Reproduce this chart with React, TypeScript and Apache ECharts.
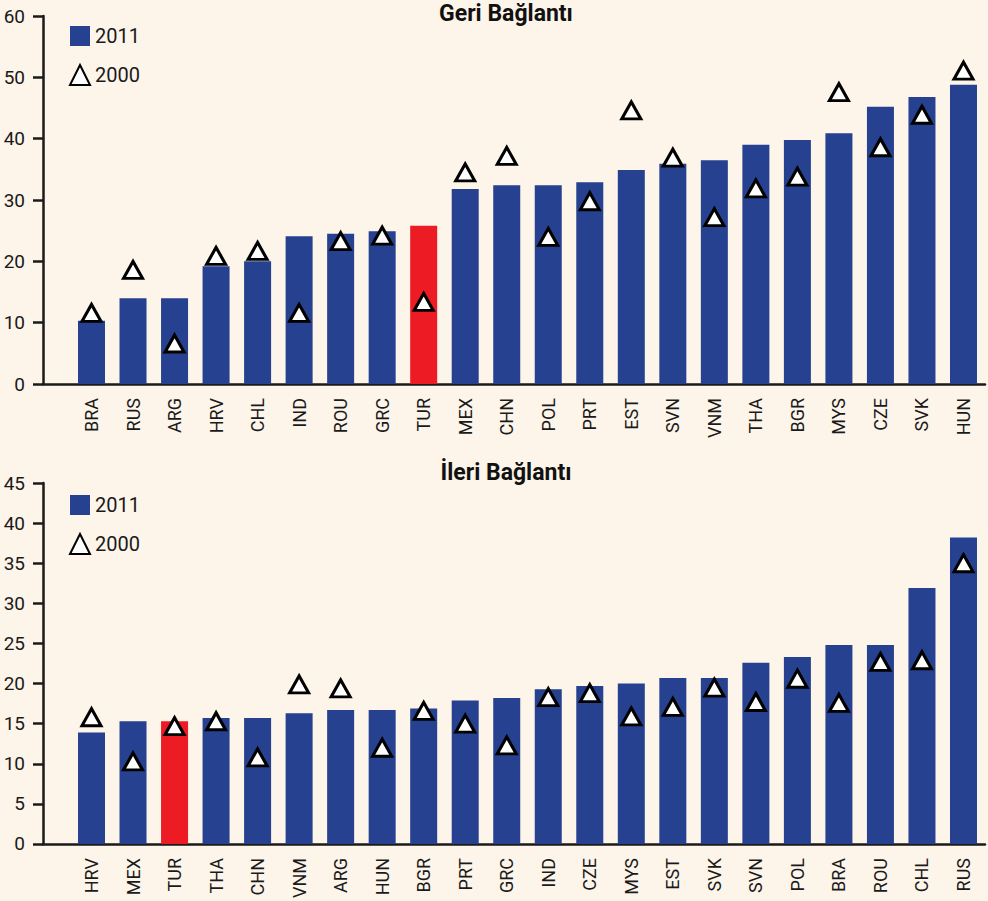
import React, { useEffect, useRef } from "react";
import * as echarts from "echarts";

const geriCats = ["BRA","RUS","ARG","HRV","CHL","IND","ROU","GRC","TUR","MEX","CHN","POL","PRT","EST","SVN","VNM","THA","BGR","MYS","CZE","SVK","HUN"];
const geri2011 = [10.3,14.0,14.0,19.2,20.0,24.1,24.5,24.9,25.8,31.8,32.4,32.4,32.9,34.9,35.9,36.5,39.0,39.8,40.9,45.2,46.8,48.8];
const geri2000 = [11.6,18.6,6.6,20.9,21.7,11.6,23.3,24.2,13.4,34.5,37.2,24.0,29.8,44.6,36.9,27.2,31.9,33.8,47.6,38.6,43.9,51.1];

const ileriCats = ["HRV","MEX","TUR","THA","CHN","VNM","ARG","HUN","BGR","PRT","GRC","IND","CZE","MYS","EST","SVK","SVN","POL","BRA","ROU","CHL","RUS"];
const ileri2011 = [13.9,15.3,15.3,15.7,15.7,16.3,16.7,16.7,16.9,17.9,18.2,19.3,19.7,20.0,20.7,20.7,22.6,23.3,24.8,24.8,31.9,38.2];
const ileri2000 = [15.8,10.3,14.7,15.3,10.8,19.9,19.4,12.0,16.6,15.0,12.3,18.3,18.8,15.9,17.1,19.5,17.7,20.6,17.6,22.7,22.9,35.0];

const geriTicks = [0, 10, 20, 30, 40, 50, 60];
const ileriTicks = [0, 5, 10, 15, 20, 25, 30, 35, 40, 45];

const BLUE = "#26418f";
const RED = "#ed1c24";
const BG = "#fdf4ea";
const INK = "#1a1a1a";
const FONT = "Roboto, 'Noto Sans', sans-serif";

const idx = geriCats.map((_, i) => i);

function xAxisFor(gridIndex: number, cats: string[]) {
  return {
    type: "value",
    gridIndex,
    min: -1.168,
    max: 21.518,
    axisLine: { show: true, onZero: false, lineStyle: { color: INK, width: 2.5 } },
    axisTick: { show: false },
    splitLine: { show: false },
    axisLabel: {
      customValues: idx,
      rotate: 90,
      margin: 14,
      color: INK,
      fontSize: 18,
      fontFamily: FONT,
      formatter: (v: number) => cats[Math.round(v)] ?? "",
    },
  };
}

function yAxisFor(gridIndex: number, ticks: number[]) {
  return {
    type: "value",
    gridIndex,
    min: ticks[0],
    max: ticks[ticks.length - 1],
    interval: ticks[1] - ticks[0],
    axisLine: { show: true, onZero: false, lineStyle: { color: INK, width: 2.5 } },
    axisTick: { show: true, length: 10, lineStyle: { color: INK, width: 2.5 } },
    splitLine: { show: false },
    axisLabel: { margin: 18, color: INK, fontSize: 19, fontFamily: FONT },
  };
}

function barSeries(gridIndex: number, cats: string[], vals: number[]) {
  return {
    type: "bar",
    name: "2011",
    xAxisIndex: gridIndex,
    yAxisIndex: gridIndex,
    barWidth: 27,
    itemStyle: { color: BLUE },
    z: 2,
    data: cats.map((c, i) => ({
      value: [i, vals[i]],
      itemStyle: c === "TUR" ? { color: RED } : undefined,
    })),
  };
}

function triSeries(gridIndex: number, vals: number[]) {
  return {
    type: "scatter",
    name: "2000",
    xAxisIndex: gridIndex,
    yAxisIndex: gridIndex,
    symbol: "triangle",
    symbolSize: [19, 17],
    itemStyle: { color: "#ffffff", borderColor: "#000000", borderWidth: 3, opacity: 1 },
    z: 5,
    data: vals.map((v, i) => [i, v]),
  };
}

function legendFor(top: number) {
  return {
    left: 69,
    top,
    padding: 0,
    orient: "vertical",
    itemWidth: 20,
    itemHeight: 20,
    itemGap: 18,
    textStyle: { color: INK, fontSize: 20, fontFamily: FONT },
    data: [
      { name: "2011", icon: "rect" },
      { name: "2000", icon: "triangle" },
    ],
  };
}

export default function App() {
  const ref = useRef<HTMLDivElement>(null);
  useEffect(() => {
    document.body.style.margin = "0";
    document.body.style.background = BG;
    const chart = echarts.init(ref.current!, null, { renderer: "svg" });
    chart.setOption({
      animation: false,
      backgroundColor: BG,
      title: [
        {
          text: "Geri Bağlantı",
          left: 504,
          textAlign: "center",
          top: 0,
          padding: 2,
          textStyle: { fontSize: 23, fontWeight: "bold", color: "#111", fontFamily: FONT },
        },
        {
          text: "İleri Bağlantı",
          left: 504,
          textAlign: "center",
          top: 459,
          padding: 2,
          textStyle: { fontSize: 23, fontWeight: "bold", color: "#111", fontFamily: FONT },
        },
      ],
      legend: [legendFor(26), legendFor(495)],
      grid: [
        { left: 43, right: 3, top: 16, height: 368 },
        { left: 43, right: 3, top: 483, height: 362 },
      ],
      xAxis: [xAxisFor(0, geriCats), xAxisFor(1, ileriCats)],
      yAxis: [yAxisFor(0, geriTicks), yAxisFor(1, ileriTicks)],
      series: [
        barSeries(0, geriCats, geri2011),
        triSeries(0, geri2000),
        barSeries(1, ileriCats, ileri2011),
        triSeries(1, ileri2000),
      ],
    });
    return () => chart.dispose();
  }, []);
  return <div ref={ref} style={{ width: 988, height: 901, background: BG }} />;
}
